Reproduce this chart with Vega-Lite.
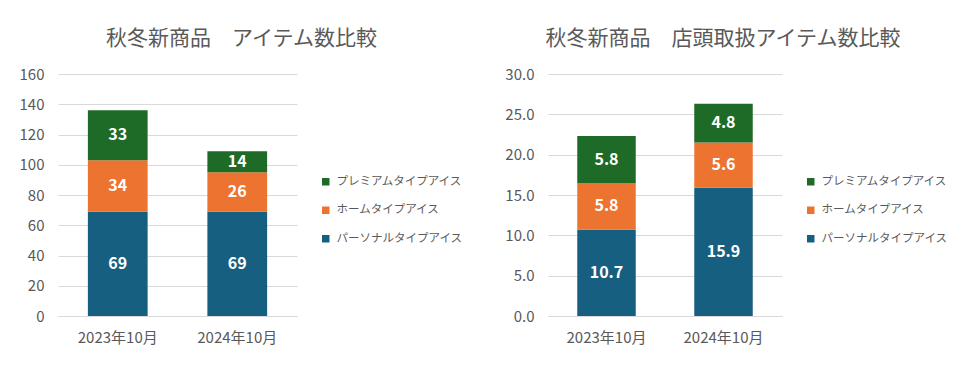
{
  "$schema": "https://vega.github.io/schema/vega-lite/v6.json",
  "padding": {"top": 28, "left": 19, "right": 0, "bottom": 0},
  "datasets": {
    "items": [
      {"month": "2023年10月", "type": "パーソナルタイプアイス", "k": 1, "v": 69},
      {"month": "2023年10月", "type": "ホームタイプアイス", "k": 2, "v": 34},
      {"month": "2023年10月", "type": "プレミアムタイプアイス", "k": 3, "v": 33},
      {"month": "2024年10月", "type": "パーソナルタイプアイス", "k": 1, "v": 69},
      {"month": "2024年10月", "type": "ホームタイプアイス", "k": 2, "v": 26},
      {"month": "2024年10月", "type": "プレミアムタイプアイス", "k": 3, "v": 14}
    ],
    "stores": [
      {"month": "2023年10月", "type": "パーソナルタイプアイス", "k": 1, "v": 10.7},
      {"month": "2023年10月", "type": "ホームタイプアイス", "k": 2, "v": 5.8},
      {"month": "2023年10月", "type": "プレミアムタイプアイス", "k": 3, "v": 5.8},
      {"month": "2024年10月", "type": "パーソナルタイプアイス", "k": 1, "v": 15.9},
      {"month": "2024年10月", "type": "ホームタイプアイス", "k": 2, "v": 5.6},
      {"month": "2024年10月", "type": "プレミアムタイプアイス", "k": 3, "v": 4.8}
    ]
  },
  "spacing": 41,
  "hconcat": [
    {
      "data": {"name": "items"},
      "width": 239,
      "height": 242,
      "title": {"text": "秋冬新商品　アイテム数比較", "dx": 64, "frame": "group"},
      "transform": [
        {"stack": "v", "groupby": ["month"], "sort": [{"field": "k", "order": "ascending"}], "as": ["v0", "v1"]},
        {"calculate": "(datum.v0 + datum.v1) / 2", "as": "mid"}
      ],
      "layer": [
        {
          "mark": {"type": "bar"},
          "encoding": {
            "x": {"field": "month", "type": "nominal", "scale": {"paddingInner": 0.5, "paddingOuter": 0.25}, "axis": {"labelAngle": 0, "domain": true, "domainColor": "#d9d9d9", "grid": false, "labelPadding": 14}},
            "y": {"field": "v0", "type": "quantitative", "scale": {"domain": [0, 160]}, "axis": {"values": [0, 20, 40, 60, 80, 100, 120, 140, 160], "labelPadding": 14, "labelOverlap": false}},
            "y2": {"field": "v1"},
            "color": {
              "field": "type", "type": "nominal",
              "scale": {"domain": ["プレミアムタイプアイス", "ホームタイプアイス", "パーソナルタイプアイス"], "range": ["#1e6b27", "#ed7331", "#175f80"]},
              "legend": {"orient": "none", "legendX": 262, "legendY": 102}
            }
          }
        },
        {
          "mark": {"type": "text", "color": "white", "fontWeight": "bold", "fontSize": 16},
          "encoding": {
            "x": {"field": "month", "type": "nominal"},
            "y": {"field": "mid", "type": "quantitative", "axis": {"values": [0, 20, 40, 60, 80, 100, 120, 140, 160], "labelPadding": 14, "labelOverlap": false}},
            "text": {"field": "v", "type": "quantitative", "format": "d"}
          }
        }
      ]
    },
    {
      "data": {"name": "stores"},
      "width": 234,
      "height": 242,
      "title": {"text": "秋冬新商品　店頭取扱アイテム数比較", "dx": 58, "frame": "group"},
      "transform": [
        {"stack": "v", "groupby": ["month"], "sort": [{"field": "k", "order": "ascending"}], "as": ["v0", "v1"]},
        {"calculate": "(datum.v0 + datum.v1) / 2", "as": "mid"}
      ],
      "layer": [
        {
          "mark": {"type": "bar"},
          "encoding": {
            "x": {"field": "month", "type": "nominal", "scale": {"paddingInner": 0.5, "paddingOuter": 0.25}, "axis": {"labelAngle": 0, "domain": true, "domainColor": "#d9d9d9", "grid": false, "labelPadding": 14}},
            "y": {"field": "v0", "type": "quantitative", "scale": {"domain": [0, 30]}, "axis": {"values": [0, 5, 10, 15, 20, 25, 30], "format": ".1f", "labelPadding": 14, "labelOverlap": false}},
            "y2": {"field": "v1"},
            "color": {
              "field": "type", "type": "nominal",
              "scale": {"domain": ["プレミアムタイプアイス", "ホームタイプアイス", "パーソナルタイプアイス"], "range": ["#1e6b27", "#ed7331", "#175f80"]},
              "legend": {"orient": "none", "legendX": 257, "legendY": 102}
            }
          }
        },
        {
          "mark": {"type": "text", "color": "white", "fontWeight": "bold", "fontSize": 16},
          "encoding": {
            "x": {"field": "month", "type": "nominal"},
            "y": {"field": "mid", "type": "quantitative", "axis": {"values": [0, 5, 10, 15, 20, 25, 30], "format": ".1f", "labelPadding": 14, "labelOverlap": false}},
            "text": {"field": "v", "type": "quantitative", "format": ".1f"}
          }
        }
      ]
    }
  ],
  "resolve": {"scale": {"color": "independent"}},
  "config": {
    "font": "Noto Sans CJK JP",
    "view": {"stroke": null},
    "title": {"fontSize": 21, "fontWeight": "normal", "color": "#595959", "anchor": "middle", "offset": 18},
    "axis": {"labelColor": "#595959", "labelFontSize": 15, "ticks": false, "domain": false, "gridColor": "#d9d9d9", "title": null},
    "legend": {"title": null, "symbolType": "square", "symbolSize": 56, "symbolStrokeWidth": 0, "labelFontSize": 11.5, "labelColor": "#595959", "rowPadding": 15.5, "labelOffset": 5, "labelLimit": 300}
  }
}
